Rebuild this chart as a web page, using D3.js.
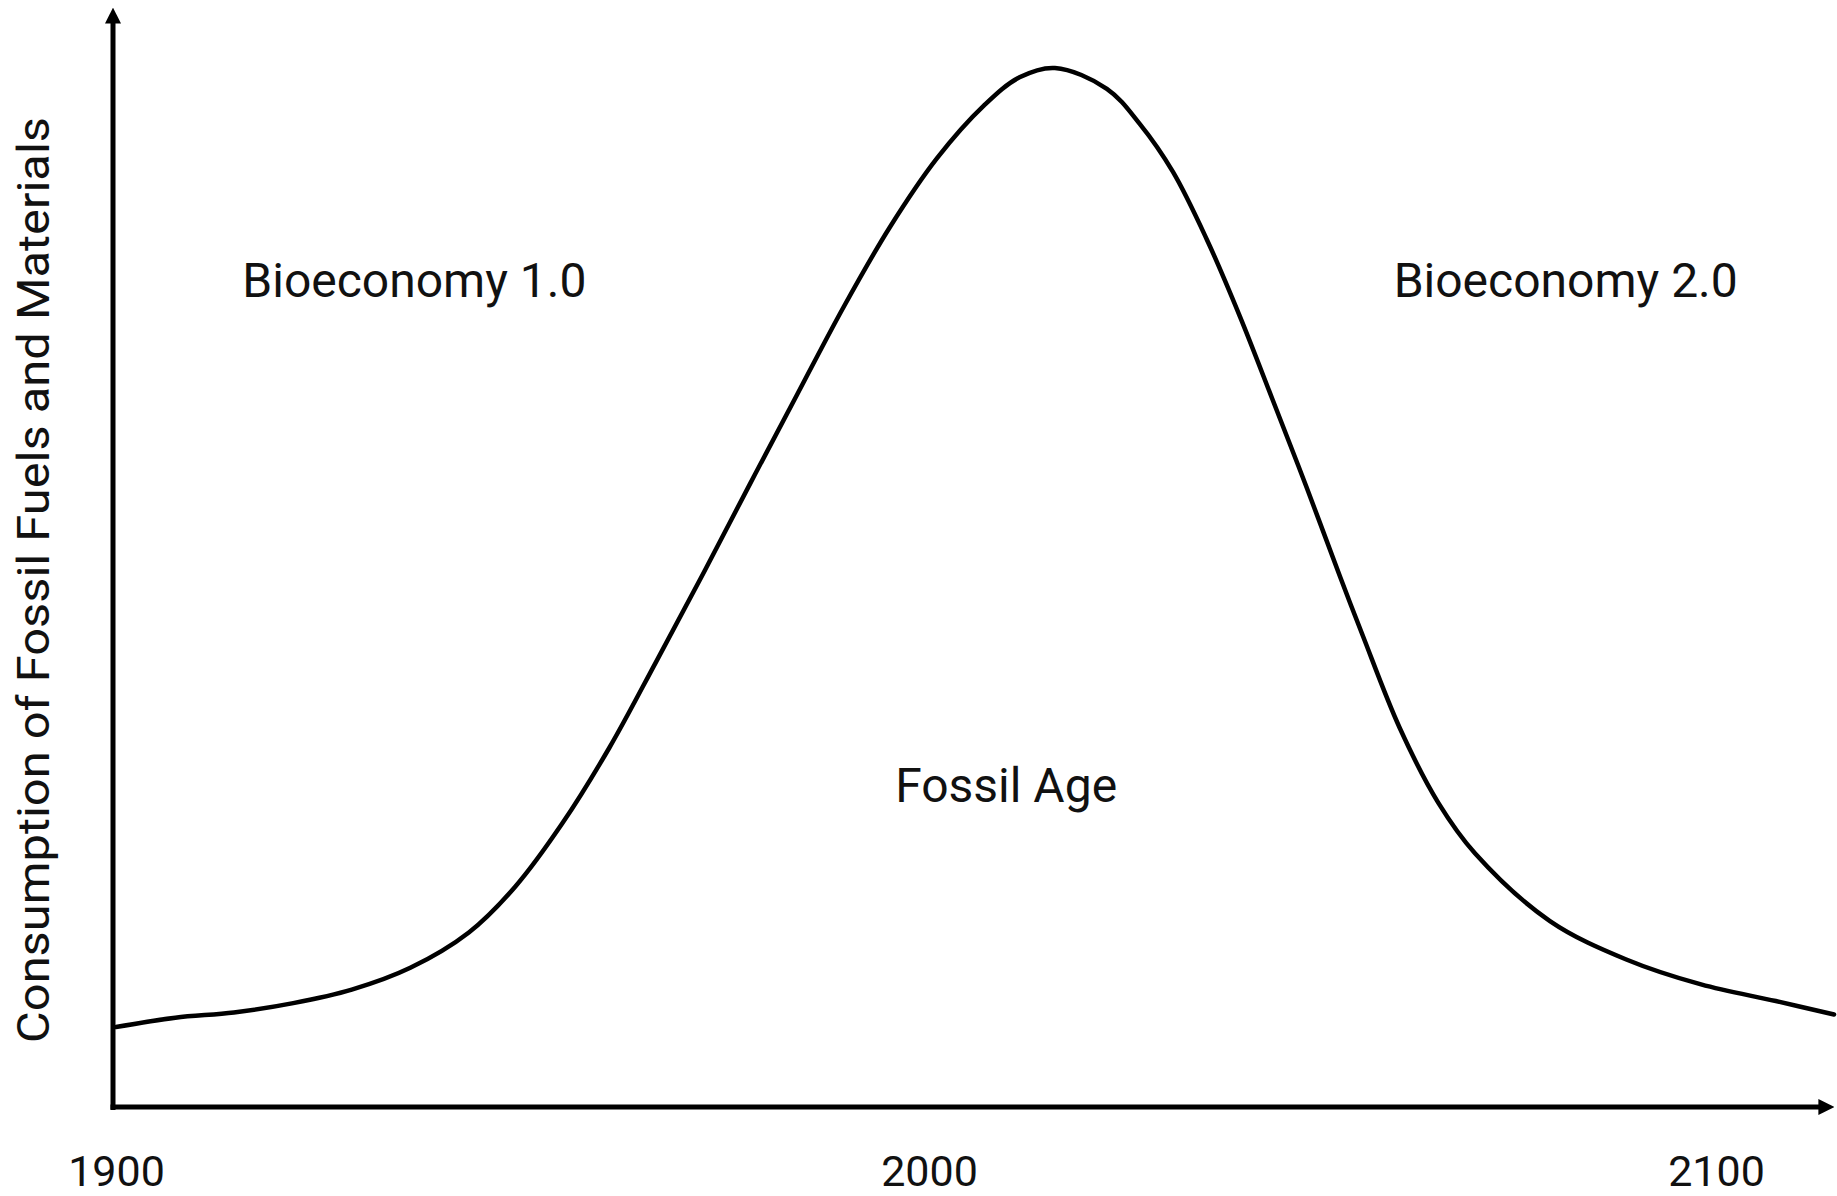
<!DOCTYPE html>
<html>
<head>
<meta charset="utf-8">
<script src="https://cdn.jsdelivr.net/npm/d3@7"></script>
<style>
  body { margin: 0; background: #fff; }
  svg { display: block; font-family: Roboto, "Open Sans", sans-serif; }
</style>
</head>
<body>
<div id="chart"></div>
<script>
/* Data: consumption curve (year, relative level 0-100) */
const years = [1900, 1907.3, 1914.5, 1921.8, 1929, 1936.2, 1943.4, 1949.1, 1954.9, 1960.7,
               1966.4, 1972.2, 1978, 1983.8, 1989.5, 1995.2, 2001, 2007, 2011.5, 2016,
               2022.6, 2026.8, 2031, 2035.3, 2039.5, 2043.7, 2048, 2052.2, 2055.1, 2059.8,
               2064.7, 2069.4, 2078.9, 2088.6, 2098.1, 2107.6, 2115];
const consumption = [7.7, 8.6, 9.1, 10.0, 11.3, 13.4, 16.8, 21.2, 27.3, 34.6,
                     42.8, 51.3, 60.0, 68.6, 77.0, 84.7, 91.3, 96.4, 99.1, 100,
                     98.0, 94.6, 90.0, 83.5, 76.1, 68.0, 59.6, 51.1, 45.4, 36.5,
                     29.3, 24.4, 17.9, 14.2, 11.8, 10.2, 8.9];
const tickYears = [1900, 2000, 2100];
const eraLabels = ["Bioeconomy 1.0", "Fossil Age", "Bioeconomy 2.0"];
const eraYears = [1936.7, 2009.8, 2080.9];
const eraLevels = [78.0, 29.4, 78.0];
const yTitle = "Consumption of Fossil Fuels and Materials";

/* Dimensions */
const W = 1837, H = 1196;
const originX = 113, originY = 1107;

const svg = d3.select("#chart").append("svg")
    .attr("width", W)
    .attr("height", H);
svg.append("rect").attr("width", W).attr("height", H).attr("fill", "#fff");

/* Scales (tick spacing in the source is slightly uneven) */
const x = d3.scaleLinear().domain([1900, 2000, 2100]).range([116, 929, 1716]);
const y = d3.scaleLinear().domain([0, 100]).range([originY, 68]);

/* Axis lines with arrows */
const defs = svg.append("defs");
defs.append("marker")
    .attr("id", "arrow")
    .attr("viewBox", "0 0 10 10")
    .attr("refX", 1).attr("refY", 5)
    .attr("markerUnits", "userSpaceOnUse")
    .attr("markerWidth", 16).attr("markerHeight", 18)
    .attr("orient", "auto")
  .append("path")
    .attr("d", "M0,0 L10,5 L0,10 Z")
    .attr("fill", "#000");

svg.append("line")
    .attr("x1", originX).attr("y1", originY + 3)
    .attr("x2", originX).attr("y2", 22)
    .attr("stroke", "#000").attr("stroke-width", 5)
    .attr("marker-end", "url(#arrow)");
svg.append("line")
    .attr("x1", originX - 2.5).attr("y1", originY)
    .attr("x2", 1820).attr("y2", originY)
    .attr("stroke", "#000").attr("stroke-width", 5)
    .attr("marker-end", "url(#arrow)");

/* Tick labels */
const xAxis = svg.append("g")
    .attr("transform", `translate(0, ${originY})`)
    .call(d3.axisBottom(x).tickValues(tickYears).tickSize(0).tickPadding(48).tickFormat(d3.format("d")));
xAxis.select(".domain").remove();
xAxis.selectAll("text")
    .attr("font-family", "Roboto, sans-serif")
    .attr("font-size", 43)
    .attr("fill", "#111");

/* Curve */
const pts = years.map((yr, i) => [yr, consumption[i]]);
svg.append("path")
    .datum(pts)
    .attr("fill", "none")
    .attr("stroke", "#000")
    .attr("stroke-width", 4.5)
    .attr("stroke-linecap", "round")
    .attr("d", d3.line().x(d => x(d[0])).y(d => y(d[1])).curve(d3.curveCatmullRom.alpha(0.5)));

/* Era labels */
svg.selectAll(".era")
    .data(eraLabels)
    .join("text")
      .attr("class", "era")
      .attr("x", (d, i) => x(eraYears[i]))
      .attr("y", (d, i) => y(eraLevels[i]))
      .attr("text-anchor", "middle")
      .attr("font-size", 48)
      .attr("fill", "#111")
      .text(d => d);

/* Y axis title */
svg.append("text")
    .attr("transform", "translate(49, 580) rotate(-90)")
    .attr("text-anchor", "middle")
    .attr("font-size", 44)
    .attr("textLength", 926)
    .attr("lengthAdjust", "spacingAndGlyphs")
    .attr("fill", "#111")
    .text(yTitle);
</script>
</body>
</html>
